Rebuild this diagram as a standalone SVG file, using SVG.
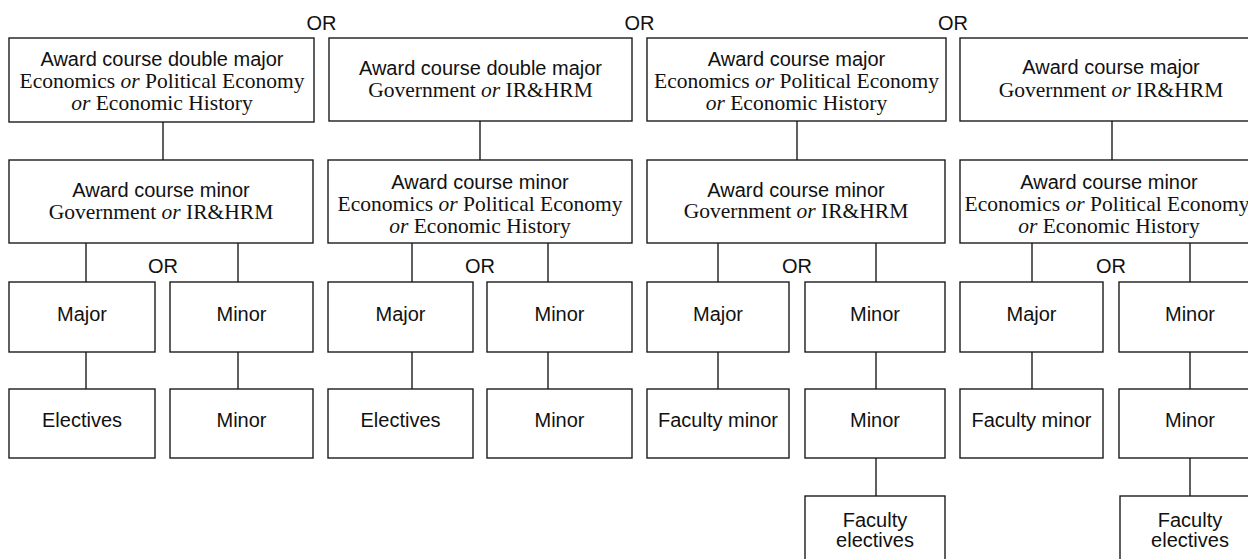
<svg xmlns="http://www.w3.org/2000/svg" width="1248" height="559" viewBox="0 0 1248 559">
  <style>
    .box { fill: #ffffff; stroke: #1c1c1c; stroke-width: 1.4; }
    .link { stroke: #1c1c1c; stroke-width: 1.4; fill: none; }
    .sans { font-family: "Liberation Sans", Arial, Helvetica, sans-serif; font-size: 20px; fill: #111; text-anchor: middle; }
    .serif { font-family: "Liberation Serif", "Times New Roman", serif; font-size: 21.5px; fill: #111; text-anchor: middle; }
    .it { font-style: italic; }
  </style>
  <rect x="0" y="0" width="1248" height="559" fill="#ffffff"/>

  <!-- connectors -->
  <g id="connectors">
    <line class="link" x1="163" y1="122" x2="163" y2="160"/>
    <line class="link" x1="86" y1="243" x2="86" y2="282"/>
    <line class="link" x1="238" y1="243" x2="238" y2="282"/>
    <line class="link" x1="86" y1="352" x2="86" y2="389"/>
    <line class="link" x1="238" y1="352" x2="238" y2="389"/>

    <line class="link" x1="480" y1="121" x2="480" y2="160"/>
    <line class="link" x1="412" y1="243" x2="412" y2="282"/>
    <line class="link" x1="548" y1="243" x2="548" y2="282"/>
    <line class="link" x1="412" y1="352" x2="412" y2="389"/>
    <line class="link" x1="548" y1="352" x2="548" y2="389"/>

    <line class="link" x1="797" y1="121" x2="797" y2="160"/>
    <line class="link" x1="718" y1="243" x2="718" y2="282"/>
    <line class="link" x1="876" y1="243" x2="876" y2="282"/>
    <line class="link" x1="718" y1="352" x2="718" y2="389"/>
    <line class="link" x1="876" y1="352" x2="876" y2="389"/>
    <line class="link" x1="876" y1="458" x2="876" y2="496"/>

    <line class="link" x1="1112" y1="121" x2="1112" y2="160"/>
    <line class="link" x1="1032" y1="243" x2="1032" y2="282"/>
    <line class="link" x1="1190" y1="243" x2="1190" y2="282"/>
    <line class="link" x1="1032" y1="352" x2="1032" y2="389"/>
    <line class="link" x1="1190" y1="352" x2="1190" y2="389"/>
    <line class="link" x1="1190" y1="458" x2="1190" y2="496"/>
  </g>

  <!-- alternatives between the four study plans -->
  <g id="or-labels">
    <text class="sans" x="321.5" y="30">OR</text>
    <text class="sans" x="639.5" y="30">OR</text>
    <text class="sans" x="953" y="30">OR</text>
    <text class="sans" x="163" y="273">OR</text>
    <text class="sans" x="480" y="273">OR</text>
    <text class="sans" x="797" y="273">OR</text>
    <text class="sans" x="1111" y="273">OR</text>
  </g>

  <!-- plan 1 -->
  <g id="p1-award-major">
    <rect class="box" x="9" y="38" width="305" height="84"/>
    <text class="sans" x="162" y="66">Award course double major</text>
    <text class="serif" x="162" y="88">Economics <tspan class="it">or</tspan> Political Economy</text>
    <text class="serif" x="162" y="110"><tspan class="it">or</tspan> Economic History</text>
  </g>
  <g id="p1-award-minor">
    <rect class="box" x="9" y="160" width="304" height="83"/>
    <text class="sans" x="161" y="197">Award course minor</text>
    <text class="serif" x="161" y="219">Government <tspan class="it">or</tspan> IR&amp;HRM</text>
  </g>
  <g id="p1-major">
    <rect class="box" x="9" y="282" width="146" height="70"/>
    <text class="sans" x="82" y="321">Major</text>
  </g>
  <g id="p1-minor">
    <rect class="box" x="170" y="282" width="143" height="70"/>
    <text class="sans" x="241.5" y="321">Minor</text>
  </g>
  <g id="p1-electives">
    <rect class="box" x="9" y="389" width="146" height="69"/>
    <text class="sans" x="82" y="427">Electives</text>
  </g>
  <g id="p1-minor-2">
    <rect class="box" x="170" y="389" width="143" height="69"/>
    <text class="sans" x="241.5" y="427">Minor</text>
  </g>

  <!-- plan 2 -->
  <g id="p2-award-major">
    <rect class="box" x="329" y="38" width="303" height="83"/>
    <text class="sans" x="480.5" y="75">Award course double major</text>
    <text class="serif" x="480.5" y="97">Government <tspan class="it">or</tspan> IR&amp;HRM</text>
  </g>
  <g id="p2-award-minor">
    <rect class="box" x="328" y="160" width="304" height="83"/>
    <text class="sans" x="480" y="189">Award course minor</text>
    <text class="serif" x="480" y="211">Economics <tspan class="it">or</tspan> Political Economy</text>
    <text class="serif" x="480" y="233"><tspan class="it">or</tspan> Economic History</text>
  </g>
  <g id="p2-major">
    <rect class="box" x="328" y="282" width="145" height="70"/>
    <text class="sans" x="400.5" y="321">Major</text>
  </g>
  <g id="p2-minor">
    <rect class="box" x="487" y="282" width="145" height="70"/>
    <text class="sans" x="559.5" y="321">Minor</text>
  </g>
  <g id="p2-electives">
    <rect class="box" x="328" y="389" width="145" height="69"/>
    <text class="sans" x="400.5" y="427">Electives</text>
  </g>
  <g id="p2-minor-2">
    <rect class="box" x="487" y="389" width="145" height="69"/>
    <text class="sans" x="559.5" y="427">Minor</text>
  </g>

  <!-- plan 3 -->
  <g id="p3-award-major">
    <rect class="box" x="647" y="38" width="299" height="83"/>
    <text class="sans" x="796.5" y="66">Award course major</text>
    <text class="serif" x="796.5" y="88">Economics <tspan class="it">or</tspan> Political Economy</text>
    <text class="serif" x="796.5" y="110"><tspan class="it">or</tspan> Economic History</text>
  </g>
  <g id="p3-award-minor">
    <rect class="box" x="647" y="160" width="298" height="83"/>
    <text class="sans" x="796" y="197">Award course minor</text>
    <text class="serif" x="796" y="218">Government <tspan class="it">or</tspan> IR&amp;HRM</text>
  </g>
  <g id="p3-major">
    <rect class="box" x="647" y="282" width="142" height="70"/>
    <text class="sans" x="718" y="321">Major</text>
  </g>
  <g id="p3-minor">
    <rect class="box" x="805" y="282" width="140" height="70"/>
    <text class="sans" x="875" y="321">Minor</text>
  </g>
  <g id="p3-faculty-minor">
    <rect class="box" x="647" y="389" width="142" height="69"/>
    <text class="sans" x="718" y="427">Faculty minor</text>
  </g>
  <g id="p3-minor-2">
    <rect class="box" x="805" y="389" width="140" height="69"/>
    <text class="sans" x="875" y="427">Minor</text>
  </g>
  <g id="p3-faculty-electives">
    <rect class="box" x="805" y="496" width="140" height="72"/>
    <text class="sans" x="875" y="527">Faculty</text>
    <text class="sans" x="875" y="547">electives</text>
  </g>

  <!-- plan 4 (runs past the right edge) -->
  <g id="p4-award-major">
    <rect class="box" x="960" y="38" width="302" height="83"/>
    <text class="sans" x="1111" y="74">Award course major</text>
    <text class="serif" x="1111" y="97">Government <tspan class="it">or</tspan> IR&amp;HRM</text>
  </g>
  <g id="p4-award-minor">
    <rect class="box" x="960" y="160" width="302" height="83"/>
    <text class="sans" x="1109" y="189">Award course minor</text>
    <text class="serif" x="1107" y="211">Economics <tspan class="it">or</tspan> Political Economy</text>
    <text class="serif" x="1109" y="233"><tspan class="it">or</tspan> Economic History</text>
  </g>
  <g id="p4-major">
    <rect class="box" x="960" y="282" width="143" height="70"/>
    <text class="sans" x="1031.5" y="321">Major</text>
  </g>
  <g id="p4-minor">
    <rect class="box" x="1119" y="282" width="143" height="70"/>
    <text class="sans" x="1190" y="321">Minor</text>
  </g>
  <g id="p4-faculty-minor">
    <rect class="box" x="960" y="389" width="143" height="69"/>
    <text class="sans" x="1031.5" y="427">Faculty minor</text>
  </g>
  <g id="p4-minor-2">
    <rect class="box" x="1119" y="389" width="143" height="69"/>
    <text class="sans" x="1190" y="427">Minor</text>
  </g>
  <g id="p4-faculty-electives">
    <rect class="box" x="1120" y="496" width="142" height="72"/>
    <text class="sans" x="1190" y="527">Faculty</text>
    <text class="sans" x="1190" y="547">electives</text>
  </g>
</svg>
